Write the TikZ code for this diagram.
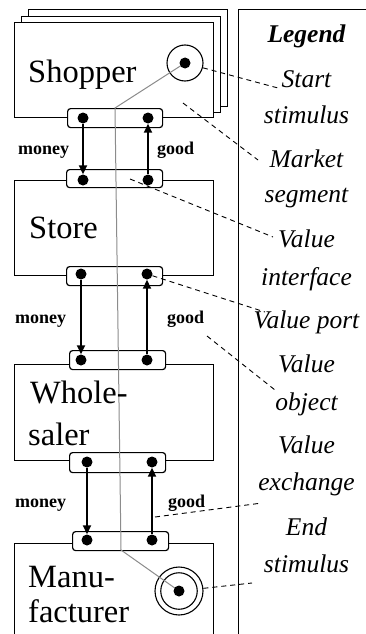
\documentclass[tikz,border=0pt]{standalone}
\usepackage{fontspec}
\setmainfont{Liberation Serif}
\usetikzlibrary{arrows.meta}
\begin{document}
\begin{tikzpicture}[x=1pt,y=-1pt,
  actor/.style={draw=black, line width=1.2pt, fill=white, inner sep=0pt, anchor=north west},
  iface/.style={draw=black, line width=1.2pt, fill=white, rounded corners=3pt, inner sep=0pt, anchor=north west},
  port/.style={circle, fill=black, inner sep=0pt, minimum size=11pt},
  ring/.style={circle, draw=black, line width=1.1pt, fill=white, inner sep=0pt},
  flow/.style={line width=1.8pt, -{Triangle[length=9pt,width=8pt]}},
  big/.style={font=\fontsize{32.5}{39}\selectfont, inner sep=0pt, anchor=base west},
  objlabel/.style={font=\fontsize{18}{21}\selectfont\bfseries, inner sep=0pt, anchor=base west},
  legtext/.style={font=\fontsize{25.5}{30}\selectfont\itshape, inner sep=0pt, anchor=base},
  leader/.style={line width=0.9pt, dash pattern=on 5pt off 4pt},
  stim/.style={draw=black!45, line width=1pt}]
\useasboundingbox (0,0) rectangle (365,634);

% legend frame
\node[draw=black, line width=1.2pt, inner sep=0pt, anchor=north west,
      minimum width=142pt, minimum height=641pt] (legend) at (238,9) {};

% actors (the shopper is a market segment: stacked boxes)
\node[actor, minimum width=199pt, minimum height=97pt] (shopC) at (28,9) {};
\node[actor, minimum width=199pt, minimum height=96pt] (shopB) at (21,16) {};
\node[actor, minimum width=199pt, minimum height=95pt] (shop) at (14,22) {};
\node[actor, minimum width=199pt, minimum height=95pt] (store) at (14,180) {};
\node[actor, minimum width=199pt, minimum height=96pt] (whole) at (14,364) {};
\node[actor, minimum width=199pt, minimum height=110pt] (manuf) at (14,543) {};

% value interfaces
\node[iface, minimum width=95pt, minimum height=19pt] (ifShop) at (67,108) {};
\node[iface, minimum width=96pt, minimum height=18pt] (ifStoreT) at (66,169) {};
\node[iface, minimum width=96pt, minimum height=19pt] (ifStoreB) at (66,266) {};
\node[iface, minimum width=96pt, minimum height=19pt] (ifWholeT) at (69,350) {};
\node[iface, minimum width=96pt, minimum height=20pt] (ifWholeB) at (69,452) {};
\node[iface, minimum width=96pt, minimum height=19pt] (ifManuf) at (72,531) {};

% stimuli
\node[ring, minimum size=36pt] (start) at (185,63) {};
\node[ring, minimum size=48pt] (endO) at (179,591) {};
\node[ring, minimum size=36.5pt] (endI) at (179,591) {};

% scenario path
\coordinate (bendA) at (115,108);
\coordinate (bendB) at (121,550);
\draw[stim] (185,63) -- (bendA) -- (bendB) -- (179,591);

% value ports
\node[port] (startdot) at (185,63) {};
\node[port] (enddot) at (179,591) {};
\node[port] (pSm) at (83,118) {};
\node[port] (pSg) at (148,118) {};
\node[port] (pTm) at (83,180) {};
\node[port] (pTg) at (148,180) {};
\node[port] (pBm) at (81,274) {};
\node[port] (pBg) at (147,274) {};
\node[port] (pWm) at (81,360) {};
\node[port] (pWg) at (147,360) {};
\node[port] (pXm) at (87,462) {};
\node[port] (pXg) at (152,462) {};
\node[port] (pMm) at (87,540) {};
\node[port] (pMg) at (152,540) {};

% value exchanges
\draw[flow] (pSm) -- (pTm);
\draw[flow] (pTg) -- (pSg);
\draw[flow] (pBm) -- (pWm);
\draw[flow] (pWg) -- (pBg);
\draw[flow] (pXm) -- (pMm);
\draw[flow] (pMg) -- (pXg);

% actor names
\node[big] (tShop) at (28,82) {Shopper};
\node[big] (tStore) at (29,238) {Store};
\node[big] (tWhole1) at (30,403) {Whole-};
\node[big] (tWhole2) at (28,445) {saler};
\node[big] (tManuf1) at (28,587) {Manu-};
\node[big] (tManuf2) at (28,622) {facturer};

% value objects
\node[objlabel] (m1) at (18,154) {money};
\node[objlabel] (g1) at (157,154) {good};
\node[objlabel] (m2) at (15,323) {money};
\node[objlabel] (g2) at (167,323) {good};
\node[objlabel] (m3) at (15,507) {money};
\node[objlabel] (g3) at (168,507) {good};

% legend entries
\node[legtext, font=\fontsize{25.5}{30}\selectfont\bfseries\itshape] (lgTitle) at (306.5,43) {Legend};
\node[legtext] (lgStart1) at (306.5,88) {Start};
\node[legtext] (lgStart2) at (306.5,123) {stimulus};
\node[legtext] (lgSeg1) at (306.5,167) {Market};
\node[legtext] (lgSeg2) at (306.5,202) {segment};
\node[legtext] (lgIf1) at (306.5,247) {Value};
\node[legtext] (lgIf2) at (306.5,285) {interface};
\node[legtext] (lgPort) at (306.5,328) {Value port};
\node[legtext] (lgObj1) at (306.5,372) {Value};
\node[legtext] (lgObj2) at (306.5,410) {object};
\node[legtext] (lgEx1) at (306.5,453) {Value};
\node[legtext] (lgEx2) at (306.5,490) {exchange};
\node[legtext] (lgEnd1) at (306.5,535) {End};
\node[legtext] (lgEnd2) at (306.5,572) {stimulus};

% legend leaders
\coordinate (kStart) at (278,88);
\coordinate (kSegA) at (183,103);
\coordinate (kSegB) at (258,160);
\coordinate (kIfA) at (130,179);
\coordinate (kIfB) at (273,237);
\coordinate (kPort) at (265,312);
\coordinate (kObjA) at (207,336);
\coordinate (kObjB) at (275,390);
\coordinate (kExA) at (155,517);
\coordinate (kExB) at (262,503);
\coordinate (kEnd) at (252,583);
\draw[leader] (start) -- (kStart);
\draw[leader] (kSegA) -- (kSegB);
\draw[leader] (kIfA) -- (kIfB);
\draw[leader] (pBg) -- (kPort);
\draw[leader] (kObjA) -- (kObjB);
\draw[leader] (kExA) -- (kExB);
\draw[leader] (endO) -- (kEnd);
\end{tikzpicture}
\end{document}
